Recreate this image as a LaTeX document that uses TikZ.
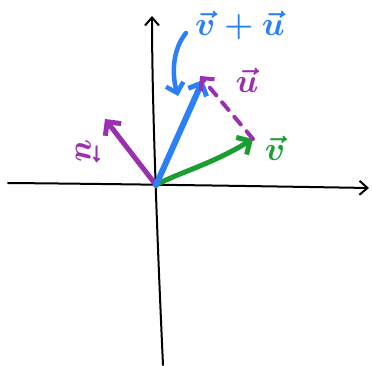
\documentclass[tikz,border=0pt]{standalone}
\usepackage{amsmath}
\usepackage{fontspec}
\setsansfont{DejaVu Sans}
\usetikzlibrary{arrows.meta}
\definecolor{vblue}{HTML}{2B7FF7}
\definecolor{upurple}{HTML}{9A2FB0}
\definecolor{vgreen}{HTML}{1A9E30}
\newcommand{\biglbl}[1]{\scalebox{1.35}{\fontsize{24.88}{26}\selectfont$\boldsymbol{#1}$}}
\tikzset{
  axisline/.style={line width=2pt, line cap=round, -{Straight Barb[length=8pt,width=14pt,line width=2pt]}},
  vecline/.style={line width=5pt, line cap=round, -{Straight Barb[length=10pt,width=20pt,line width=5pt]}},
  lbl/.style={inner sep=0pt}
}
\begin{document}
\begin{tikzpicture}[x=1pt,y=-1pt]
\useasboundingbox (0,0) rectangle (372,366);
\coordinate (O) at (156,185);
\coordinate (xl) at (8,183);
\coordinate (xr) at (369,188);
\coordinate (yb) at (163,365);
\coordinate (yt) at (152,16);
\draw[axisline] (xl) .. controls (120,184) and (250,186) .. (xr);
\draw[axisline] (yb) .. controls (160,300) and (152,120) .. (yt);
\coordinate (vt) at (253,139);
\coordinate (ut) at (105,119);
\coordinate (st) at (203,80);
\draw[vecline, vgreen] (O) .. controls (180,172) and (210,165) .. (vt);
\draw[vecline, upurple] (O) -- (ut);
\draw[vecline, vblue, line width=6pt] (O) -- (st);
\draw[upurple, line width=4pt, dash pattern=on 10pt off 9pt, line cap=round, -{Straight Barb[length=9pt,width=18pt,line width=4pt]}] (vt) -- (200,76);
\coordinate (ca) at (186,33);
\coordinate (cb) at (178,96);
\draw[vblue, line width=4.5pt, line cap=round, -{Straight Barb[length=9pt,width=18pt,line width=4.5pt]}] (ca) .. controls (172,50) and (172,75) .. (cb);
\node[lbl, vblue] (sum) at (240,25) {\biglbl{\vec{v}+\vec{u}}};
\node[lbl, upurple] (u2) at (247,80) {\biglbl{\vec{u}}};
\node[lbl, vgreen] (v) at (275,148) {\biglbl{\vec{v}}};
\node[lbl, upurple, rotate=-90] (u1) at (88,151) {\biglbl{\vec{u}}};
\end{tikzpicture}
\end{document}
